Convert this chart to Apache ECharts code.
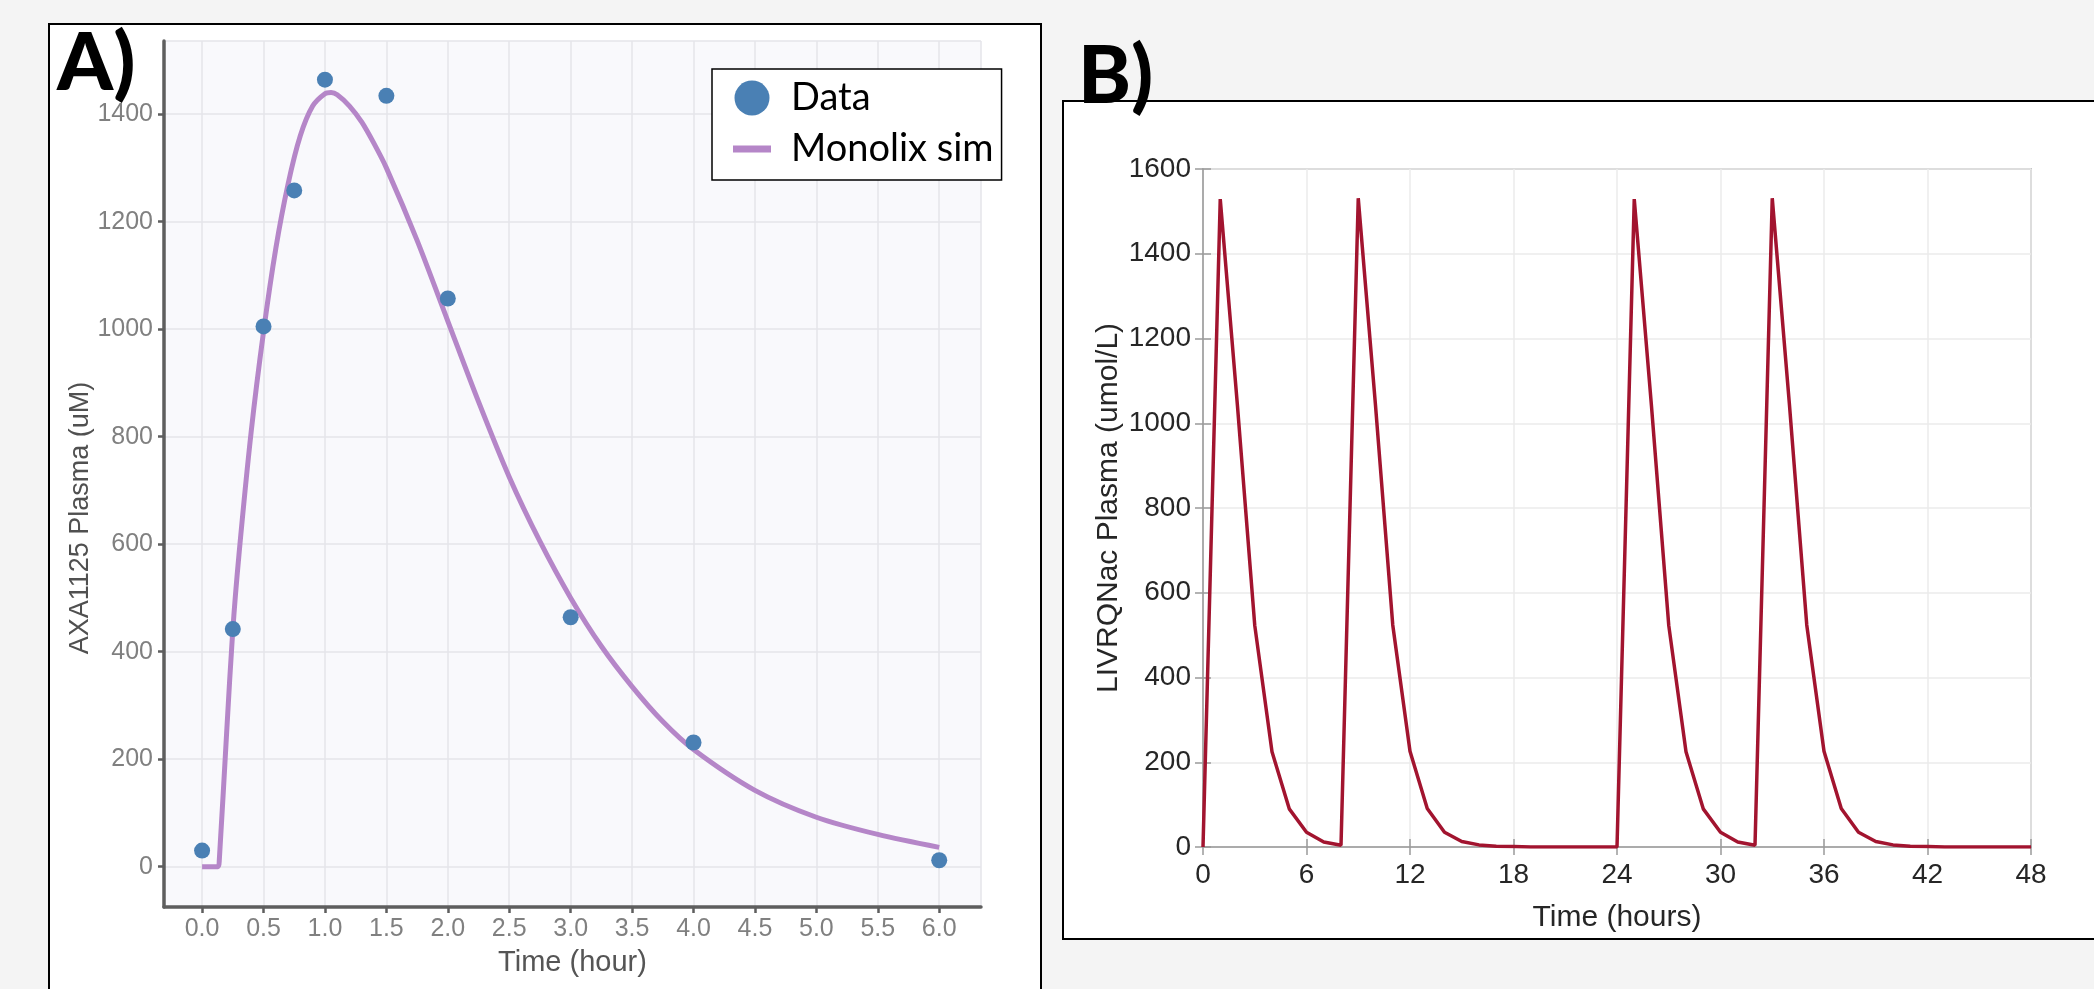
<!DOCTYPE html>
<html>
<head>
<meta charset="utf-8">
<script src="https://cdn.jsdelivr.net/npm/echarts@6/dist/echarts.min.js"></script>
<style>
html, body { margin: 0; padding: 0; background: #f4f4f4; }
#main { width: 2094px; height: 989px; }
</style>
</head>
<body>
<div id="main"></div>
<script>
// Panel A - observed plasma concentrations (uM)
var dataTime = [0, 0.25, 0.5, 0.75, 1, 1.5, 2, 3, 4, 6];
var dataConc = [30, 442, 1005, 1258, 1464, 1434, 1057, 464, 231, 12];

// Panel A - Monolix simulated curve
var simTime = [0, 0.13, 0.14, 0.2, 0.25, 0.3, 0.4, 0.5, 0.6, 0.7, 0.8, 0.9, 1.0, 1.05, 1.1, 1.2, 1.3, 1.4, 1.5,
               1.75, 2.0, 2.25, 2.5, 2.75, 3.0, 3.25, 3.5, 3.75, 4.0, 4.5, 5.0, 5.5, 6.0];
var simConc = [0, 0, 12, 250, 440, 580, 810, 995, 1150, 1270, 1360, 1415, 1438, 1440, 1436, 1415, 1385, 1345, 1300,
               1165, 1015, 865, 725, 605, 500, 410, 335, 270, 218, 142, 92, 60, 36];

// Panel B - simulated multi-dose profile (umol/L), hourly
var timeB = [0, 1, 2, 3, 4, 5, 6, 7, 8, 9, 10, 11, 12, 13, 14, 15, 16, 17, 18, 19, 20, 21, 22, 23, 24,
             25, 26, 27, 28, 29, 30, 31, 32, 33, 34, 35, 36, 37, 38, 39, 40, 41, 42, 43, 44, 45, 46, 47, 48];
var concB = [0, 1529, 1040, 523, 225, 90, 35, 12, 4, 1531, 1042, 524, 226, 91, 35, 13, 5, 2, 1, 0, 0, 0, 0, 0, 0,
             1529, 1040, 523, 225, 90, 35, 12, 4, 1531, 1042, 524, 226, 91, 35, 13, 5, 2, 1, 0, 0, 0, 0, 0, 0];

function pairs(xs, ys) {
    return xs.map(function (x, i) { return [x, ys[i]]; });
}
function plain(v) { return String(v); }

var chart = echarts.init(document.getElementById('main'));

var axisGreyA = '#5e5e5e';
var boxGreyB = '#9a9a9a';

var option = {
    animation: false,
    backgroundColor: '#f4f4f4',
    title: [
        { text: 'A)', left: 52, top: 19, padding: 5,
          textStyle: { fontFamily: 'Lato', fontWeight: 900, fontSize: 80, color: '#000' } },
        { text: 'B)', left: 1073, top: 32, padding: 5,
          textStyle: { fontFamily: 'Lato', fontWeight: 900, fontSize: 80, color: '#000' } }
    ],
    graphic: [
        { type: 'rect', z: -10, silent: true,
          shape: { x: 49, y: 24, width: 992, height: 1000 },
          style: { fill: '#fff', stroke: '#000', lineWidth: 2 } },
        { type: 'rect', z: -10, silent: true,
          shape: { x: 1063, y: 101, width: 1100, height: 838 },
          style: { fill: '#fff', stroke: '#000', lineWidth: 2 } }
    ],
    legend: {
        left: 712, top: 69,
        orient: 'vertical',
        selectedMode: false,
        data: [
            { name: 'Data', icon: 'circle' },
            { name: 'Monolix sim', icon: 'path://M0,0h38v7h-38z' }
        ],
        itemWidth: 38, itemHeight: 35, itemGap: 13,
        padding: [10, 8, 12, 21],
        backgroundColor: '#fff', borderColor: '#000', borderWidth: 1.5,
        textStyle: { fontFamily: 'Lato', fontSize: 38, color: '#000', padding: [0, 0, 0, 15] }
    },
    grid: [
        { left: 164, top: 41, width: 817, height: 866, show: true, backgroundColor: '#f9f9fc',
          borderWidth: 0, containLabel: false, outerBoundsMode: 'none' },
        { left: 1203, top: 169, width: 828, height: 678, show: true, backgroundColor: '#fff',
          borderColor: boxGreyB, borderWidth: 1.5, containLabel: false, outerBoundsMode: 'none' }
    ],
    xAxis: [
        {
            gridIndex: 0, type: 'value', min: -0.31, max: 6.34, splitNumber: 13,
            axisLine: { show: true, onZero: false, lineStyle: { color: axisGreyA, width: 3.5 } },
            axisTick: { show: true, length: 6, lineStyle: { color: axisGreyA, width: 2.5 } },
            axisLabel: { color: '#808080', fontFamily: 'Liberation Sans', fontSize: 25, margin: 10,
                         showMinLabel: false, showMaxLabel: false,
                         formatter: function (v) { return v.toFixed(1); } },
            splitLine: { show: true, lineStyle: { color: '#e4e4ea', width: 1.5 } },
            name: 'Time (hour)', nameLocation: 'middle', nameGap: 41, nameMoveOverlap: false,
            nameTextStyle: { color: '#555', fontFamily: 'Liberation Sans', fontSize: 29 }
        },
        {
            gridIndex: 1, type: 'value', min: 0, max: 48, interval: 6,
            axisLine: { show: true, onZero: false, lineStyle: { color: boxGreyB, width: 1.5 } },
            axisTick: { show: true, inside: true, length: 8, lineStyle: { color: boxGreyB, width: 1.5 } },
            axisLabel: { color: '#262626', fontFamily: 'Liberation Sans', fontSize: 28, margin: 14,
                         formatter: plain },
            splitLine: { show: true, lineStyle: { color: '#ebebeb', width: 1.5 } },
            name: 'Time (hours)', nameLocation: 'middle', nameGap: 56, nameMoveOverlap: false,
            nameTextStyle: { color: '#262626', fontFamily: 'Liberation Sans', fontSize: 30 }
        },
        {
            gridIndex: 1, type: 'value', min: 0, max: 48, interval: 6, position: 'top',
            axisLine: { show: false },
            axisTick: { show: true, inside: true, length: 8, lineStyle: { color: boxGreyB, width: 1.5 } },
            axisLabel: { show: false },
            splitLine: { show: false }
        }
    ],
    yAxis: [
        {
            gridIndex: 0, type: 'value', min: -75, max: 1536, splitNumber: 8,
            axisLine: { show: true, onZero: false, lineStyle: { color: axisGreyA, width: 3.5 } },
            axisTick: { show: true, length: 6, lineStyle: { color: axisGreyA, width: 2.5 } },
            axisLabel: { color: '#808080', fontFamily: 'Liberation Sans', fontSize: 25, margin: 11,
                         showMinLabel: false, showMaxLabel: false, formatter: plain },
            splitLine: { show: true, lineStyle: { color: '#e4e4ea', width: 1.5 } },
            name: 'AXA1125 Plasma (uM)', nameLocation: 'middle', nameGap: 70, nameMoveOverlap: false,
            nameTextStyle: { color: '#505050', fontFamily: 'Liberation Sans', fontSize: 27,
                             padding: [0, 88, 0, 0] }
        },
        {
            gridIndex: 1, type: 'value', min: 0, max: 1600, interval: 200,
            axisLine: { show: true, onZero: false, lineStyle: { color: boxGreyB, width: 1.5 } },
            axisTick: { show: true, inside: true, length: 8, lineStyle: { color: boxGreyB, width: 1.5 } },
            axisLabel: { color: '#262626', fontFamily: 'Liberation Sans', fontSize: 28, margin: 12,
                         formatter: plain },
            splitLine: { show: true, lineStyle: { color: '#ebebeb', width: 1.5 } },
            name: 'LIVRQNac Plasma (umol/L)', nameLocation: 'middle', nameGap: 79, nameMoveOverlap: false,
            nameTextStyle: { color: '#262626', fontFamily: 'Liberation Sans', fontSize: 30 }
        },
        {
            gridIndex: 1, type: 'value', min: 0, max: 1600, interval: 200, position: 'right',
            axisLine: { show: false },
            axisTick: { show: true, inside: true, length: 8, lineStyle: { color: boxGreyB, width: 1.5 } },
            axisLabel: { show: false },
            splitLine: { show: false }
        }
    ],
    series: [
        {
            name: 'Monolix sim', type: 'line', xAxisIndex: 0, yAxisIndex: 0,
            data: pairs(simTime, simConc),
            smooth: 0.3, showSymbol: false, z: 2,
            itemStyle: { color: '#b586c8' },
            lineStyle: { color: '#b586c8', width: 5 }
        },
        {
            name: 'Data', type: 'scatter', xAxisIndex: 0, yAxisIndex: 0,
            data: pairs(dataTime, dataConc),
            symbolSize: 16, z: 3,
            itemStyle: { color: '#4a80b4', opacity: 1 }
        },
        {
            name: 'LIVRQNac', type: 'line', xAxisIndex: 1, yAxisIndex: 1,
            data: pairs(timeB, concB),
            showSymbol: false,
            lineStyle: { color: '#a2142f', width: 3.5 },
            itemStyle: { color: '#a2142f' }
        }
    ]
};

chart.setOption(option);

window.onresize = chart.resize;
</script>
</body>
</html>
